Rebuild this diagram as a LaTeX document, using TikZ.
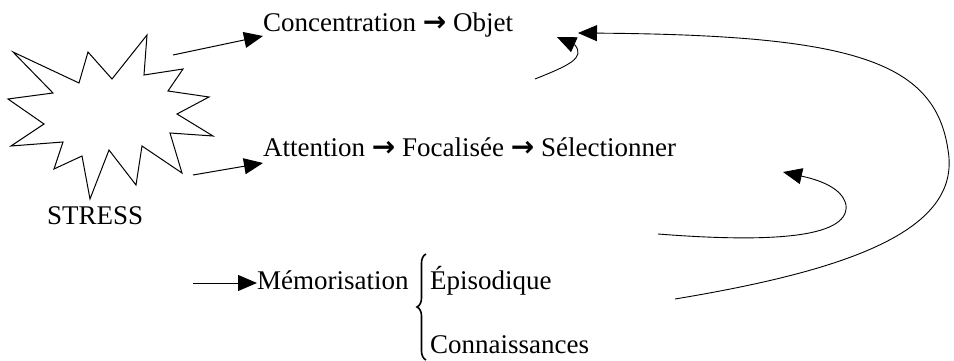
\documentclass[tikz,border=0pt]{standalone}
\usepackage{fontspec}
\setmainfont{Liberation Serif}
\newfontfamily\arrfont{DejaVu Sans}
\usetikzlibrary{arrows.meta,decorations.pathreplacing}
\newcommand{\ra}{{\arrfont\bfseries\fontsize{28}{28}\selectfont →}}
\begin{document}
\begin{tikzpicture}[x=1pt,y=-1pt,
  lbl/.style={anchor=base west,inner sep=0pt,font=\fontsize{27}{29}\selectfont},
  conn/.style={line width=1pt,-{Triangle[length=19pt,width=16pt]}},
  curve/.style={line width=0.9pt,-{Triangle[length=19pt,width=16pt]}}]
\useasboundingbox (0,0) rectangle (954,361);
% star
\draw[line width=1pt] (13,52) -- (79,83) -- (88,52) -- (112,79) -- (147,35) -- (144,75) -- (183,69) -- (168,91) -- (209,97) -- (177,114) -- (213,136) -- (170,133) -- (182,173) -- (142,146) -- (136,185) -- (109,150) -- (90,199) -- (82,156) -- (54,169) -- (63,142) -- (11,146) -- (44,124) -- (8,99) -- (53,93) -- cycle;
\node[lbl] (stress) at (47,224) {STRESS};
% texts
\node[lbl] (conc) at (263,32) {Concentration \ra{} Objet};
\node[lbl] (att) at (263,157) {Attention \ra{} Focalisée \ra{} Sélectionner};
\node[lbl] (mem) at (257,289) {Mémorisation};
\node[lbl] (epi) at (430,289) {Épisodique};
\node[lbl] (con) at (430,353) {Connaissances};
\draw[line width=1.6pt,decorate,decoration={brace,amplitude=9pt,aspect=0.5,mirror}] (426,254) -- (426,360);
% arrows from star
\coordinate (s1) at (173,55);
\coordinate (s2) at (193,175);
\coordinate (s3) at (193,283);
\draw[conn] (s1) -- (conc.west |- 36,36) ;
\draw[conn] (s2) -- (att.west |- 163,163);
\draw[conn] (s3) -- (mem.west |- 283,283);
% curves
\coordinate (c1) at (535,79);
\coordinate (c2) at (658,234);
\coordinate (c3) at (675,299);
\draw[curve] (c1) .. controls (570,65) and (585,58) .. (575,45) -- (557,37);
\draw[curve] (c2) .. controls (760,242) and (850,240) .. (846,205) .. controls (842,185) and (810,178) .. (783,172);
\draw[curve] (c3) .. controls (850,270) and (962,230) .. (948,150) .. controls (935,60) and (850,35) .. (578,33);
\end{tikzpicture}
\end{document}
